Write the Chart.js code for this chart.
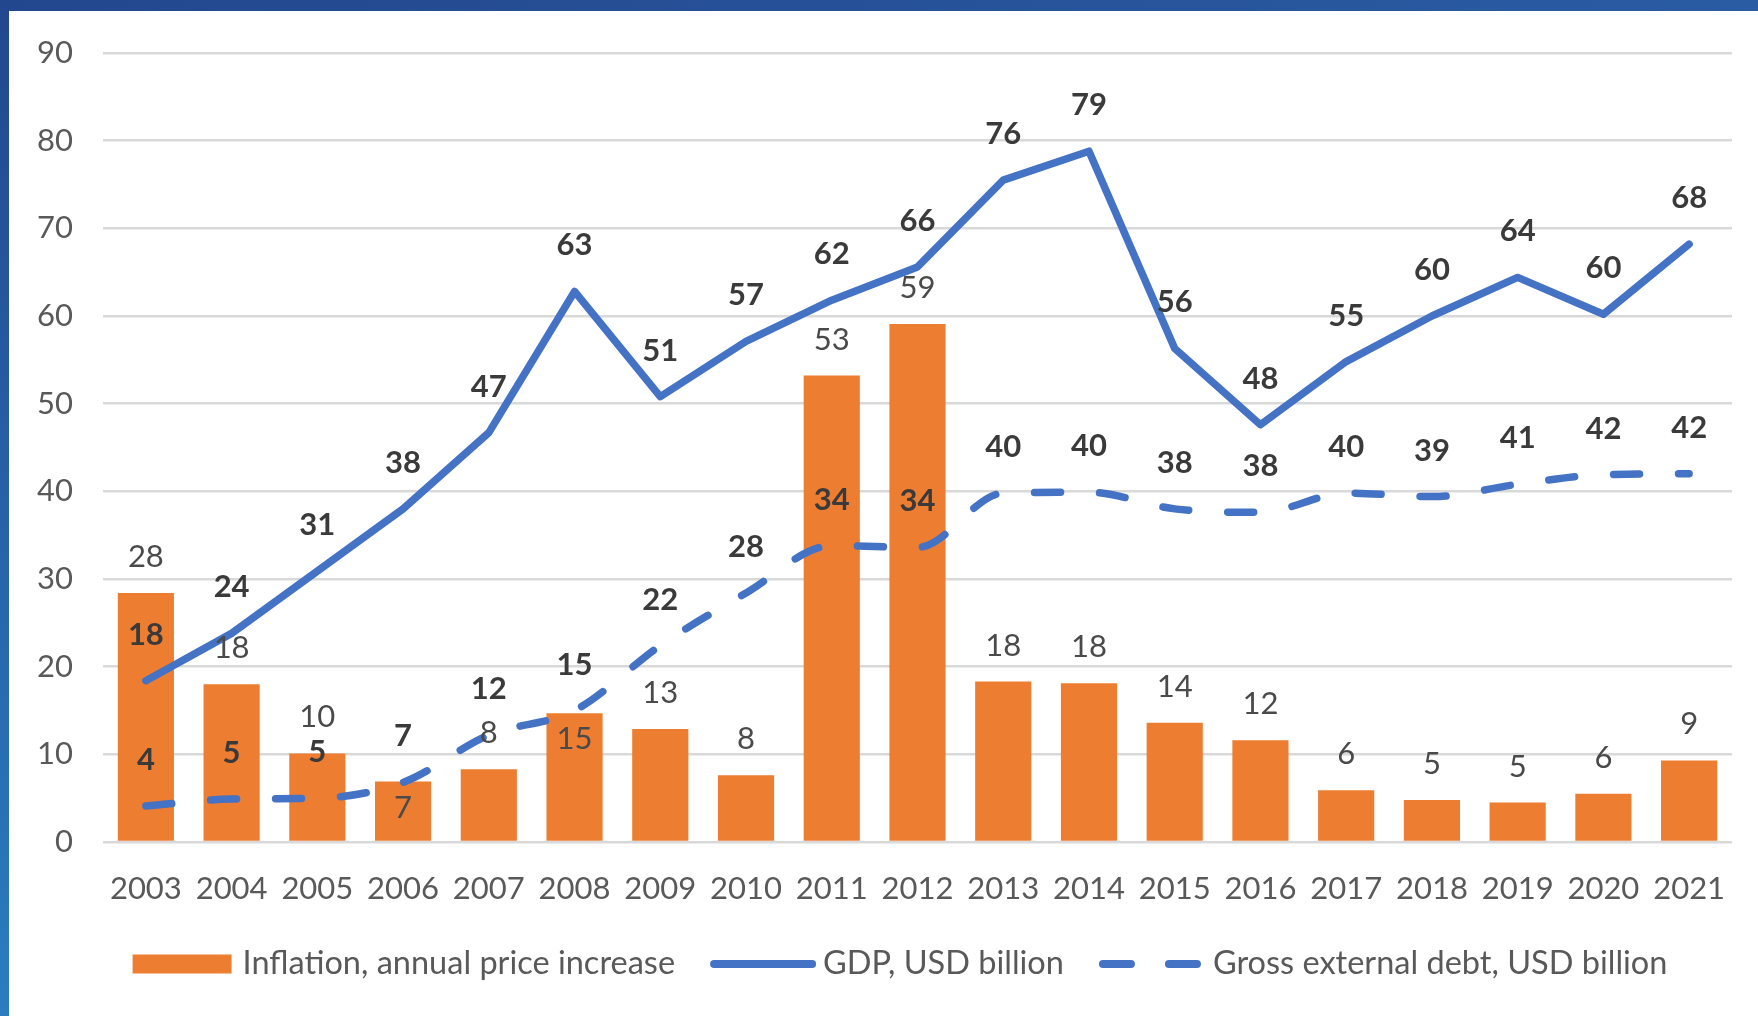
<!DOCTYPE html>
<html><head><meta charset="utf-8">
<script src="https://cdn.jsdelivr.net/npm/chart.js@4.4.1/dist/chart.umd.min.js"></script>
<style>
html,body{margin:0;padding:0;width:1758px;height:1016px;overflow:hidden;background:#fff}
#topb{position:absolute;left:0;top:0;width:1758px;height:11px;background:linear-gradient(to right,#23478e,#2a5ca3)}
#leftb{position:absolute;left:0;top:0;width:9px;height:1016px;background:linear-gradient(to bottom,#23478e,#2b7cc1)}
#wrap{position:absolute;left:9px;top:11px;width:1749px;height:1005px;background:#fff}
</style></head><body>
<div id="topb"></div><div id="leftb"></div>
<div id="wrap"><canvas id="c" width="1749" height="1005"></canvas></div>
<script>
const years = ['2003','2004','2005','2006','2007','2008','2009','2010','2011','2012','2013','2014','2015','2016','2017','2018','2019','2020','2021'];
const inflation = [28.4, 18.0, 10.1, 6.9, 8.3, 14.7, 12.9, 7.6, 53.2, 59.1, 18.3, 18.1, 13.6, 11.6, 5.9, 4.8, 4.5, 5.5, 9.3];
const gdp = [18.4, 23.8, 30.9, 38.0, 46.7, 62.8, 50.8, 57.1, 61.8, 65.6, 75.5, 78.8, 56.3, 47.6, 54.8, 60.0, 64.4, 60.2, 68.2];
const debt = [4.1, 4.9, 5.0, 6.8, 12.2, 15.0, 22.4, 28.4, 33.8, 33.6, 39.8, 39.9, 38.0, 37.6, 39.8, 39.4, 40.8, 41.9, 42.0];
const seriesNames = ['Inflation, annual price increase', 'GDP, USD billion', 'Gross external debt, USD billion'];
const inflationLabelInside = ['2006', '2008'];

const FONT = 'Lato';
const ORANGE = '#ED7D31', BLUE = '#4472C4';

const labelPlugin = {
  id: 'valueLabels',
  afterDatasetsDraw(chart) {
    const ctx = chart.ctx;
    ctx.save();
    ctx.textAlign = 'center';
    ctx.textBaseline = 'middle';
    chart.data.datasets.forEach((ds, di) => {
      const meta = chart.getDatasetMeta(di);
      meta.data.forEach((el, i) => {
        const v = Math.round(ds.data[i]);
        let y;
        if (ds.type === 'bar') {
          ctx.font = '31px ' + FONT;
          ctx.fillStyle = '#4a4a4a';
          y = inflationLabelInside.includes(years[i]) ? el.y + 26 : el.y - 36;
        } else {
          ctx.font = 'bold 31px ' + FONT;
          ctx.fillStyle = '#3a3a3a';
          y = el.y - 46;
        }
        ctx.fillText(String(v), el.x, y);
      });
    });
    ctx.restore();
  }
};

const legendPlugin = {
  id: 'customLegend',
  afterDraw(chart) {
    const ctx = chart.ctx;
    ctx.save();
    ctx.font = '32.5px ' + FONT;
    ctx.textBaseline = 'middle';
    const y = 953;
    const dsOrdered = seriesNames.map(n => chart.data.datasets.find(d => d.label === n));
    const items = dsOrdered.map(ds => ({ds, w: ctx.measureText(ds.label).width}));
    const sampleW = [99, 106, 102], gapT = [11, 7, 12], gapI = 35;
    let total = 0;
    items.forEach((it, i) => { total += sampleW[i] + gapT[i] + it.w + (i < items.length - 1 ? gapI : 0); });
    let x = 891 - total / 2;
    items.forEach((it, i) => {
      const ds = it.ds;
      if (ds.type === 'bar') {
        ctx.fillStyle = ds.backgroundColor;
        ctx.fillRect(x, y - 9.5, sampleW[i], 19);
      } else {
        ctx.strokeStyle = ds.borderColor;
        ctx.lineWidth = 8;
        ctx.lineCap = 'round';
        ctx.beginPath();
        if (ds.borderDash && ds.borderDash.length) {
          ctx.moveTo(x + 4, y); ctx.lineTo(x + 32, y);
          ctx.moveTo(x + 70, y); ctx.lineTo(x + sampleW[i] - 4, y);
        } else {
          ctx.moveTo(x + 4, y); ctx.lineTo(x + sampleW[i] - 4, y);
        }
        ctx.stroke();
      }
      x += sampleW[i] + gapT[i];
      ctx.fillStyle = '#595959';
      ctx.fillText(ds.label, x, y);
      x += it.w + gapI;
    });
    ctx.restore();
  }
};

new Chart(document.getElementById('c'), {
  data: {
    labels: years,
    datasets: [
      { type: 'line', label: seriesNames[1], data: gdp, borderColor: BLUE, borderWidth: 7.5,
        pointRadius: 0, tension: 0, borderCapStyle: 'round', borderJoinStyle: 'round', order: 1 },
      { type: 'line', label: seriesNames[2], data: debt, borderColor: BLUE, borderWidth: 7.5,
        borderDash: [26, 39], borderCapStyle: 'round', pointRadius: 0, tension: 0.4,
        cubicInterpolationMode: 'monotone', order: 0 },
      { type: 'bar', label: seriesNames[0], data: inflation, backgroundColor: ORANGE,
        barPercentage: 0.655, categoryPercentage: 1, order: 5 }
    ]
  },
  options: {
    responsive: false,
    devicePixelRatio: 1,
    animation: false,
    layout: { padding: { left: 0, right: 26, top: 42, bottom: 0 } },
    plugins: { legend: { display: false }, tooltip: { enabled: false } },
    scales: {
      x: {
        grid: { display: false }, border: { display: false },
        ticks: { color: '#595959', font: { family: FONT, size: 31 }, padding: 20, maxRotation: 0, autoSkip: false },
        afterFit(s) { s.height = 174; }
      },
      y: {
        min: 0, max: 90,
        grid: { color: '#d9d9d9', lineWidth: 2.5, drawTicks: false },
        border: { display: false },
        ticks: { stepSize: 10, color: '#595959', font: { family: FONT, size: 31 }, padding: 30 },
        afterFit(s) { s.width = 94; s.paddingTop = 0; s.paddingBottom = 0; }
      }
    }
  },
  plugins: [labelPlugin, legendPlugin]
});
</script>
</body></html>
